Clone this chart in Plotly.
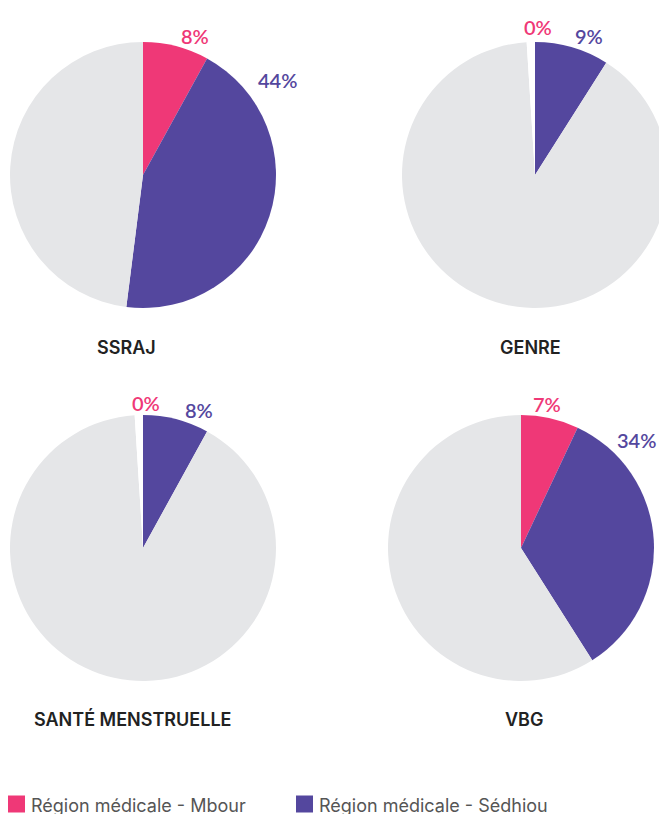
import plotly.graph_objects as go

W, H = 667, 814
OFF = 8  # page body margin: screen position = figure position + 8 px

categories = ["SSRAJ", "GENRE", "SANTÉ MENSTRUELLE", "VBG"]
series_names = ["Région médicale - Mbour", "Région médicale - Sédhiou"]
mbour = [8, 0, 0, 7]
sedhiou = [44, 9, 8, 34]
rest = [48, 90, 91, 59]
blank = [0, 1, 1, 0]

PINK = "#EF3877"
PURPLE = "#54479E"
GRAY = "#E5E6E8"

# layout (screen pixels): pie placement (centre x, centre y, radius)
pies = [(143, 175, 133), (535, 175, 133), (143, 548, 133), (521, 548, 133)]
titles_pos = [(126, 347), (530, 347), (133, 719), (524, 719)]
# value-label positions (screen pixels): [mbour label, sedhiou label] per pie
label_pos = [[(195, 36), (277, 80)], [(538, 27), (589, 36)],
             [(146, 403), (199, 410)], [(547, 404), (636, 440)]]
# legend swatch left x and text left x (screen pixels)
legend_x = [(8, 29), (296, 317)]
legend_y = 804


def px(x, y):
    return (x - OFF) / W, (H - (y - OFF)) / H


fig = go.Figure()
for i, cat in enumerate(categories):
    cx, cy, r = pies[i]
    x0, y1 = px(cx - r, cy - r)
    x1, y0 = px(cx + r, cy + r)
    fig.add_trace(go.Pie(
        labels=series_names + ["Autres", "Non attribué"],
        values=[mbour[i], sedhiou[i], rest[i], blank[i]],
        sort=False, direction="clockwise", rotation=0,
        marker=dict(colors=[PINK, PURPLE, GRAY, "#FFFFFF"], line=dict(width=0)),
        textinfo="none",
        domain=dict(x=[x0, min(1.0, x1)], y=[y0, y1]),
        showlegend=False, hoverinfo="label+value",
    ))
    for val, col, (lx, ly) in zip([mbour[i], sedhiou[i]], [PINK, PURPLE], label_pos[i]):
        ax, ay = px(lx, ly)
        fig.add_annotation(x=ax, y=ay, xref="paper", yref="paper", text=f"{val}%",
                           showarrow=False, xanchor="center", yanchor="middle",
                           font=dict(family="Lato", size=20, color=col, weight=600))
    tx, ty = px(*titles_pos[i])
    fig.add_annotation(x=tx, y=ty, xref="paper", yref="paper",
                       text=cat, showarrow=False, xanchor="center", yanchor="middle",
                       font=dict(family="Inter", size=18, color="#222222", weight=600))

# legend: swatches + labels
for name, col, (sx, tx) in zip(series_names, [PINK, PURPLE], legend_x):
    ax0, ay1 = px(sx, legend_y - 8.5)
    ax1, ay0 = px(sx + 17, legend_y + 8.5)
    fig.add_shape(type="rect", xref="paper", yref="paper",
                  x0=ax0, x1=ax1, y0=ay0, y1=ay1,
                  fillcolor=col, line=dict(width=0))
    ax, ay = px(tx, legend_y + 1)
    fig.add_annotation(x=ax, y=ay, xref="paper", yref="paper", text=name,
                       showarrow=False, xanchor="left", yanchor="middle",
                       font=dict(family="Inter", size=18, color="#555555"))

fig.update_layout(
    width=W, height=H, margin=dict(l=0, r=0, t=0, b=0),
    paper_bgcolor="white", plot_bgcolor="white", showlegend=False,
)
fig.write_html("out.html",
               post_script="document.documentElement.style.overflow='hidden';")
